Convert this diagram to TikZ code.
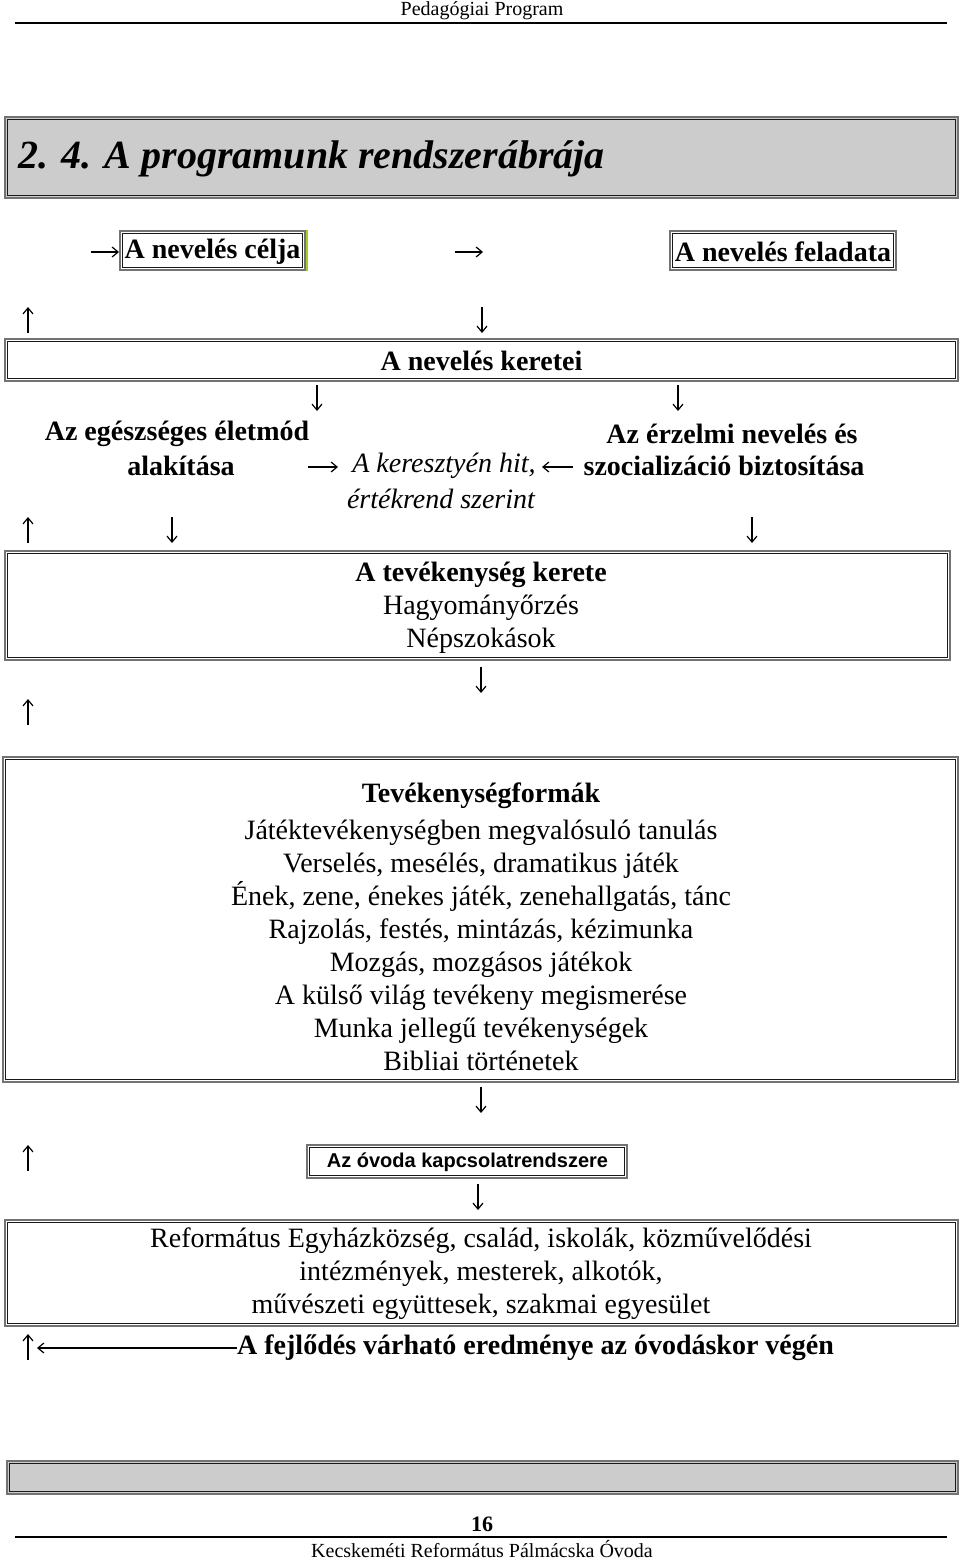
\documentclass[tikz,border=0pt]{standalone}
\usepackage{fontspec}
\setmainfont{Liberation Serif}
\newfontfamily\arialfont{Liberation Sans}
\usetikzlibrary{arrows.meta}
\tikzset{
  dblbox/.style={draw=black!55, line width=2.4pt, inner sep=0pt, outer sep=0pt},
  innerline/.style={black!90, line width=0.8pt},
  glyph/.style={line width=1.2pt, -{Straight Barb[length=6pt,width=10pt]}},
  big/.style={font=\fontsize{28}{33}\selectfont},
  bigb/.style={font=\fontsize{28}{33}\selectfont\bfseries},
  bigi/.style={font=\fontsize{28}{33}\selectfont\itshape},
  small/.style={font=\fontsize{20}{24}\selectfont},
  rule/.style={line width=1.2pt, black},
}
\newcommand\innerframe[1]{\draw[innerline]
  ([shift={(2.8pt,-2.8pt)}]#1.north west) rectangle ([shift={(-2.8pt,2.8pt)}]#1.south east);}
\begin{document}
\begin{tikzpicture}[x=1pt,y=-1pt]
\useasboundingbox (0,0) rectangle (960,1560);
% header
\node[small, inner sep=0pt] (hdr) at (482,11) {Pedagógiai Program};
\coordinate (hl) at (15,23); \coordinate (hr) at (947,23);
\draw[rule] (hl) -- (hr);
% title
\node[dblbox, fill=black!20, minimum width=953pt, minimum height=81pt] (titlebox) at (481.5,157.5) {};
\innerframe{titlebox}
\node[font=\fontsize{40}{46}\selectfont\bfseries\itshape, anchor=west, inner sep=0pt] (title) at (18,159) {2. 4. A programunk rendszerábrája};
% top row
\node[dblbox, fill=white, minimum width=185pt, minimum height=39pt] (cel) at (212.5,250.5) {};
\innerframe{cel}
\node[bigb, inner sep=0pt] (celt) at (212.5,252) {A nevelés célja};
\coordinate (g1) at (306.5,230); \coordinate (g2) at (306.5,271);
\draw[line width=2pt, color={rgb,255:red,160;green,208;blue,40}] (g1) -- (g2);
\node[dblbox, fill=white, minimum width=226pt, minimum height=39pt] (fel) at (783,250.5) {};
\innerframe{fel}
\node[bigb, inner sep=0pt] (felt) at (783,252) {A nevelés feladata};
\coordinate (a1s) at (91,252); \coordinate (a1e) at (119,252);
\draw[glyph] (a1s) -- (a1e);
\coordinate (a2s) at (455,252); \coordinate (a2e) at (483,252);
\draw[glyph] (a2s) -- (a2e);
% row arrows
\coordinate (u1s) at (28,333); \coordinate (u1e) at (28,307);
\draw[glyph] (u1s) -- (u1e);
\coordinate (d1s) at (482,307); \coordinate (d1e) at (482,333);
\draw[glyph] (d1s) -- (d1e);
% keretei
\node[dblbox, fill=white, minimum width=953pt, minimum height=42pt] (ker) at (481.5,360) {};
\innerframe{ker}
\node[bigb, inner sep=0pt] (kert) at (481.5,361) {A nevelés keretei};
\coordinate (d2s) at (317,385); \coordinate (d2e) at (317,411);
\draw[glyph] (d2s) -- (d2e);
\coordinate (d3s) at (678,385); \coordinate (d3e) at (678,411);
\draw[glyph] (d3s) -- (d3e);
% middle texts
\node[bigb, inner sep=0pt] (egt1) at (177,434) {Az egészséges életmód};
\node[bigb, inner sep=0pt] (egt2) at (181,466) {alakítása};
\node[bigb, inner sep=0pt] (ert1) at (732,434) {Az érzelmi nevelés és};
\node[bigb, inner sep=0pt] (ert2) at (724,466) {szocializáció biztosítása};
\node[bigi, inner sep=0pt] (hit1) at (444,466) {A keresztyén hit,};
\node[bigi, inner sep=0pt] (hit2) at (441,499) {értékrend szerint};
\coordinate (a3s) at (308,467); \coordinate (a3e) at (338,467);
\draw[glyph] (a3s) -- (a3e);
\coordinate (a4s) at (573,467); \coordinate (a4e) at (542,467);
\draw[glyph] (a4s) -- (a4e);
\coordinate (u2s) at (28,543); \coordinate (u2e) at (28,517);
\draw[glyph] (u2s) -- (u2e);
\coordinate (d4s) at (172,517); \coordinate (d4e) at (172,543);
\draw[glyph] (d4s) -- (d4e);
\coordinate (d5s) at (752,517); \coordinate (d5e) at (752,543);
\draw[glyph] (d5s) -- (d5e);
% tevekenyseg kerete
\node[dblbox, fill=white, minimum width=945pt, minimum height=109pt] (tk) at (477.5,605.5) {};
\innerframe{tk}
\node[big, align=center, inner sep=0pt] (tkt) at (481,608) {\textbf{A tevékenység kerete}\\Hagyományőrzés\\Népszokások};
\coordinate (d6s) at (481,667); \coordinate (d6e) at (481,693);
\draw[glyph] (d6s) -- (d6e);
\coordinate (u3s) at (28,725); \coordinate (u3e) at (28,699);
\draw[glyph] (u3s) -- (u3e);
% tevekenysegformak
\node[dblbox, fill=white, minimum width=955pt, minimum height=325pt] (tf) at (480.5,919.5) {};
\innerframe{tf}
\node[big, align=center, inner sep=0pt] (tft) at (481,927) {\textbf{Tevékenységformák}\\[4pt]
Játéktevékenységben megvalósuló tanulás\\
Verselés, mesélés, dramatikus játék\\
Ének, zene, énekes játék, zenehallgatás, tánc\\
Rajzolás, festés, mintázás, kézimunka\\
Mozgás, mozgásos játékok\\
A külső világ tevékeny megismerése\\
Munka jellegű tevékenységek\\
Bibliai történetek};
\coordinate (d7s) at (481,1087); \coordinate (d7e) at (481,1113);
\draw[glyph] (d7s) -- (d7e);
\coordinate (u4s) at (28,1171); \coordinate (u4e) at (28,1145);
\draw[glyph] (u4s) -- (u4e);
% kapcsolatrendszere
\node[dblbox, fill=white, minimum width=320pt, minimum height=33pt] (kap) at (467,1161.5) {};
\innerframe{kap}
\node[font=\fontsize{20}{24}\selectfont\arialfont\bfseries, inner sep=0pt] (kapt) at (467.5,1162) {Az óvoda kapcsolatrendszere};
\coordinate (d8s) at (478,1184); \coordinate (d8e) at (478,1210);
\draw[glyph] (d8s) -- (d8e);
\node[dblbox, fill=white, minimum width=953pt, minimum height=106pt] (ref) at (481.5,1273) {};
\innerframe{ref}
\node[big, align=center, inner sep=0pt] (reft) at (481,1274) {Református Egyházközség, család, iskolák, közművelődési\\intézmények, mesterek, alkotók,\\művészeti együttesek, szakmai egyesület};
% result line
\coordinate (u5s) at (28,1360); \coordinate (u5e) at (28,1334);
\draw[glyph] (u5s) -- (u5e);
\node[bigb, inner sep=0pt, anchor=west] (res) at (237,1348) {A fejlődés várható eredménye az óvodáskor végén};
\coordinate (lae) at (37,1348);
\draw[glyph] (res.west |- lae) -- (lae);
% bottom
\node[dblbox, fill=black!20, minimum width=951pt, minimum height=33pt] (bot) at (482.5,1477.5) {};
\innerframe{bot}
\node[font=\fontsize{22}{26}\selectfont\bfseries, inner sep=0pt] (pg) at (482,1524) {16};
\coordinate (fl) at (15,1537); \coordinate (fr) at (947,1537);
\draw[rule] (fl) -- (fr);
\node[small, inner sep=0pt] (ftr) at (482,1549) {Kecskeméti Református Pálmácska Óvoda};
\end{tikzpicture}
\end{document}
